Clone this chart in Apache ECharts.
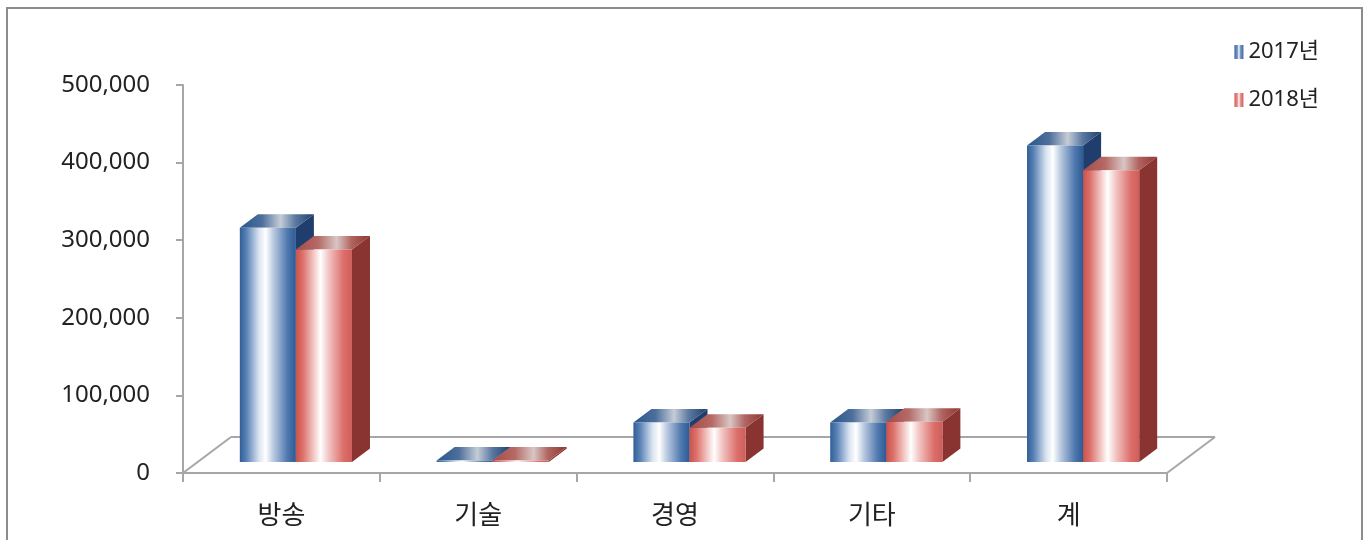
<!DOCTYPE html>
<html>
<head>
<meta charset="utf-8">
<script src="https://cdn.jsdelivr.net/npm/echarts@6/dist/echarts.min.js"></script>
<style>
html,body{margin:0;padding:0;background:#fff;}
#frame{position:absolute;left:6px;top:7px;width:1357px;height:560px;border:2px solid #8c8c8c;box-sizing:border-box;}
#chart{position:absolute;left:0;top:0;width:1372px;height:540px;}
</style>
</head>
<body>
<div id="frame"></div>
<div id="chart"></div>
<script>
const categories = ['방송', '기술', '경영', '기타', '계'];
const seriesNames = ['2017년', '2018년'];
const values2017 = [302000, 1800, 51000, 51000, 408000];
const values2018 = [274000, 1200, 44000, 52000, 376000];
const yTicks = [0, 100000, 200000, 300000, 400000, 500000];

const FONT = '"Noto Sans", "Noto Sans CJK KR", sans-serif';

function hGrad(stops) {
  return new echarts.graphic.LinearGradient(0, 0, 1, 0,
    stops.map(s => ({offset: s[0], color: s[1]})));
}
const palettes = [
  {
    front: hGrad([[0,'#2f5f96'],[0.12,'#5a82b6'],[0.34,'#d9e3f0'],[0.46,'#ffffff'],[0.6,'#b9c9e0'],[0.85,'#4f78ae'],[1,'#2c5b95']]),
    top: hGrad([[0,'#2b568c'],[0.3,'#4d6f9c'],[0.55,'#c5ccd6'],[0.75,'#5a78a0'],[1,'#1e3f6c']]),
    side: '#1f3e6e',
    legend: hGrad([[0,'#3a66a0'],[0.35,'#7f9cc6'],[0.5,'#ffffff'],[0.65,'#7f9cc6'],[1,'#3a66a0']])
  },
  {
    front: hGrad([[0,'#c9534d'],[0.12,'#dc6f69'],[0.32,'#f3c9c6'],[0.44,'#ffffff'],[0.58,'#f2c6c4'],[0.85,'#dc6e6a'],[1,'#cf5e5a']]),
    top: hGrad([[0,'#a84a45'],[0.3,'#b56a66'],[0.55,'#d8c6c4'],[0.75,'#b06460'],[1,'#8e3632']]),
    side: '#8a3431',
    legend: hGrad([[0,'#d05a55'],[0.35,'#e89a96'],[0.5,'#ffffff'],[0.65,'#e89a96'],[1,'#d05a55']])
  }
];

const FLOOR_DX = 48, FLOOR_DY = -36;
const BAR_OFF_X = 14.5, BAR_OFF_Y = -11;
const DEPTH_DX = 18, DEPTH_DY = -13.5;
const BAR_FRAC = 0.285;

function makeRender(si) {
  return function (params, api) {
    const idx = api.value(0);
    const v = api.value(1);
    const base = api.coord([idx, 0]);
    const top = api.coord([idx, v]);
    const band = api.size([1, 0])[0];
    const w = band * BAR_FRAC;
    const x0 = base[0] - w + si * w + BAR_OFF_X;
    const by = base[1] + BAR_OFF_Y;
    const ty = Math.min(top[1] + BAR_OFF_Y, by - 1.5);
    const p = palettes[si];
    return {type: 'group', children: [
      {type: 'polygon',
       shape: {points: [[x0 + w, by], [x0 + w + DEPTH_DX, by + DEPTH_DY], [x0 + w + DEPTH_DX, ty + DEPTH_DY], [x0 + w, ty]]},
       style: {fill: p.side}},
      {type: 'polygon',
       shape: {points: [[x0, ty], [x0 + w, ty], [x0 + w + DEPTH_DX, ty + DEPTH_DY], [x0 + DEPTH_DX, ty + DEPTH_DY]]},
       style: {fill: p.top}},
      {type: 'rect',
       shape: {x: x0, y: ty, width: w, height: by - ty},
       style: {fill: p.front}}
    ]};
  };
}

function floorRender(params, api) {
  const cs = params.coordSys;
  const x = cs.x, y = cs.y + cs.height, w = cs.width;
  const st = {stroke: '#a6a6a6', lineWidth: 2, fill: null};
  return {type: 'group', children: [
    {type: 'line', shape: {x1: x, y1: y, x2: x + FLOOR_DX, y2: y + FLOOR_DY}, style: st},
    {type: 'line', shape: {x1: x + FLOOR_DX, y1: y + FLOOR_DY, x2: x + w + FLOOR_DX, y2: y + FLOOR_DY}, style: st},
    {type: 'line', shape: {x1: x + w, y1: y, x2: x + w + FLOOR_DX, y2: y + FLOOR_DY}, style: st}
  ]};
}

const chart = echarts.init(document.getElementById('chart'), null, {renderer: 'canvas'});
const dataSets = [values2017, values2018];
const series = [{
  type: 'custom', name: 'floor', renderItem: floorRender,
  data: [[0, 0]], silent: true, z: 1
}];
seriesNames.forEach((n, si) => {
  series.push({
    type: 'custom', name: n, renderItem: makeRender(si),
    data: dataSets[si].map((v, i) => [i, v]),
    itemStyle: {color: palettes[si].legend},
    encode: {x: 0, y: 1},
    z: 2 + si
  });
});

chart.setOption({
  animation: false,
  backgroundColor: 'transparent',
  textStyle: {fontFamily: FONT},
  grid: {left: 183, right: 205, top: 85, bottom: 67, containLabel: false},
  legend: {
    data: seriesNames,
    orient: 'vertical',
    right: 48,
    top: 36,
    itemWidth: 9,
    itemHeight: 14,
    itemGap: 26,
    icon: 'rect',
    textStyle: {fontSize: 22, color: '#222', fontFamily: FONT}
  },
  xAxis: {
    type: 'category',
    data: categories,
    boundaryGap: true,
    axisLine: {show: true, lineStyle: {color: '#a6a6a6', width: 2}},
    axisTick: {show: true, length: 9, lineStyle: {color: '#a6a6a6', width: 2}},
    axisLabel: {fontSize: 26, color: '#222', margin: 31, fontFamily: FONT},
    splitLine: {show: false}
  },
  yAxis: {
    type: 'value',
    min: yTicks[0],
    max: yTicks[yTicks.length - 1],
    interval: yTicks[1] - yTicks[0],
    axisLine: {show: true, lineStyle: {color: '#a6a6a6', width: 2}},
    axisTick: {show: true, length: 7, lineStyle: {color: '#a6a6a6', width: 2}},
    axisLabel: {
      fontSize: 24, color: '#222', margin: 33, fontFamily: FONT,
      formatter: v => v.toLocaleString('en-US')
    },
    splitLine: {show: false}
  },
  series: series
});
</script>
</body>
</html>
